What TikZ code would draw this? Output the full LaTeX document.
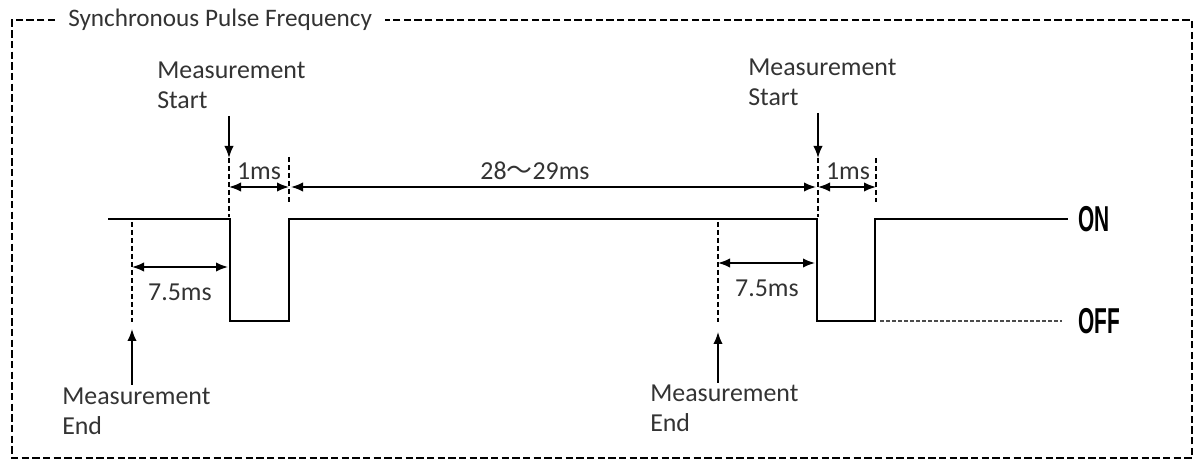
\documentclass[tikz,border=0pt]{standalone}
\usepackage{fontspec}
\setmainfont{Carlito}
\newfontfamily\cjkfont{Noto Sans CJK SC}
\newfontfamily\onofffont{Liberation Sans}
\usetikzlibrary{arrows.meta}
\begin{document}
\begin{tikzpicture}[x=0.75pt,y=-0.75pt,
 sig/.style={line width=1.9pt},
 guide/.style={line width=1pt, dash pattern=on 3.5pt off 2.5pt},
 frame/.style={line width=2.2pt, dash pattern=on 5.5pt off 2.5pt},
 lbl/.style={font=\fontsize{19.4}{22}\selectfont, text=black!80, inner sep=0, align=left},
 title/.style={font=\fontsize{18.9}{20}\selectfont, text=black!80, inner sep=0},
 level/.style={font=\onofffont\bfseries\fontsize{27}{30}\selectfont, inner sep=0, anchor=west},
 dim/.style={line width=1.2pt, {Latex[length=9pt,width=7pt]}-{Latex[length=9pt,width=7pt]}},
 ptr/.style={line width=1.2pt, -{Latex[length=9pt,width=7pt]}},
 offline/.style={line width=1.1pt, dash pattern=on 3pt off 1.5pt, black!70},
]
\useasboundingbox (0,0) rectangle (1203,466);
% frame
\node[title, anchor=west] (title) at (68,20) {Synchronous Pulse Frequency};
\coordinate (fl) at (55,20);
\coordinate (fr) at (385,20);
\draw[frame] (fl) -- (12,20) -- (12,458) -- (1192,458) -- (1192,20) -- (fr);
% signal
\coordinate (s0) at (108,219);
\coordinate (s1) at (230,219);
\coordinate (s2) at (289,219);
\coordinate (s3) at (817,219);
\coordinate (s4) at (875,219);
\coordinate (s5) at (1068,219);
\draw[sig] (s0) -- (s1) -- (230,321) -- (289,321) -- (s2) -- (s3) -- (817,321) -- (875,321) -- (s4) -- (s5);
\node[level] (on) at (1078,219) {\scalebox{0.58}[1]{ON}};
\node[level] (off) at (1078,321) {\scalebox{0.58}[1]{OFF}};
\coordinate (offs) at (880,321);
\coordinate (offe) at (1062,321);
\draw[offline] (offs) -- (offe);
% guides at pulse edges
\draw[guide] (229,158) -- (229,217);
\draw[guide] (289,157) -- (289,202);
\draw[guide] (818,158) -- (818,217);
\draw[guide] (876,158) -- (876,202);
% measurement end guides
\draw[guide] (132,222) -- (132,322);
\draw[guide] (718,222) -- (718,322);
% measurement start labels
\node[lbl, anchor=north west] (ms1) at (157,62) {Measurement\\Start};
\node[lbl, anchor=north west] (ms2) at (748,59) {Measurement\\Start};
\coordinate (ms1a) at (229,116);
\coordinate (ms1b) at (229,158);
\coordinate (ms2a) at (818,113);
\coordinate (ms2b) at (818,158);
\draw[ptr] (ms1a) -- (ms1b);
\draw[ptr] (ms2a) -- (ms2b);
% 1ms dims
\coordinate (d1a) at (229,187);
\coordinate (d1b) at (289,187);
\coordinate (d2a) at (818,187);
\coordinate (d2b) at (876,187);
\coordinate (d3a) at (291,187);
\coordinate (d3b) at (816,187);
\draw[dim] (d1a) -- (d1b);
\draw[dim] (d2a) -- (d2b);
\draw[dim] (d3a) -- (d3b);
\node[lbl] (t1) at (259,171) {1ms};
\node[lbl] (t2) at (848,171) {1ms};
\node[lbl] (t3) at (535,171) {28{\cjkfont ～}29ms};
% 7.5ms dims
\coordinate (e1a) at (132,267);
\coordinate (e1b) at (228,267);
\coordinate (e2a) at (718,263);
\coordinate (e2b) at (815,263);
\draw[dim] (e1a) -- (e1b);
\draw[dim] (e2a) -- (e2b);
\node[lbl] (u1) at (180,292) {7.5ms};
\node[lbl] (u2) at (767,288) {7.5ms};
% measurement end
\node[lbl, anchor=north west] (me1) at (62,388) {Measurement\\End};
\node[lbl, anchor=north west] (me2) at (650,385) {Measurement\\End};
\coordinate (me1a) at (132,385);
\coordinate (me1b) at (132,329);
\coordinate (me2a) at (718,383);
\coordinate (me2b) at (718,332);
\draw[ptr] (me1a) -- (me1b);
\draw[ptr] (me2a) -- (me2b);
\end{tikzpicture}
\end{document}
